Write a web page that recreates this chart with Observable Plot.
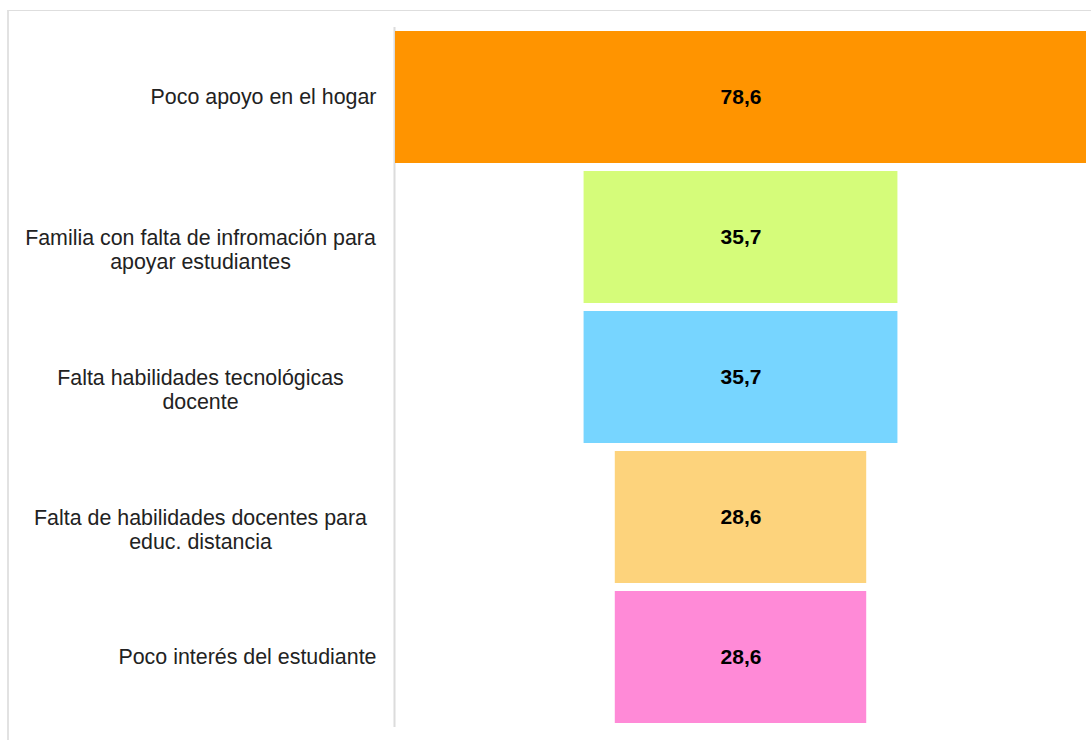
<!DOCTYPE html>
<html>
<head>
<meta charset="utf-8">
<script src="https://cdn.jsdelivr.net/npm/d3@7"></script>
<script src="https://cdn.jsdelivr.net/npm/@observablehq/plot@0.6"></script>
<style>
  html, body { margin: 0; padding: 0; background: #fff; }
  #wrap { position: relative; width: 1091px; height: 740px; overflow: hidden; }
  #frame { position: absolute; left: 7px; top: 10px; width: 1100px; height: 740px;
           border-top: 1px solid #dedede; border-left: 2px solid #e2e2e2; box-sizing: border-box; }
  #chart { position: absolute; left: 0; top: 0; }
</style>
</head>
<body>
<div id="wrap"><div id="frame"></div><div id="chart"></div></div>
<script>
const categories = [
  "Poco apoyo en el hogar",
  "Familia con falta de infromación para\napoyar estudiantes",
  "Falta habilidades tecnológicas\ndocente",
  "Falta de habilidades docentes para\neduc. distancia",
  "Poco interés del estudiante"
];
const values = [78.6, 35.7, 35.7, 28.6, 28.6];
const colors = ["#ff9400", "#d5fc7a", "#77d5ff", "#fdd37c", "#ff8ad7"];

const data = categories.map((c, i) => ({cat: c, v: values[i], color: colors[i]}));
const half = d3.max(values) / 2;
const single = data.filter(d => !d.cat.includes("\n"));
const multi = data.filter(d => d.cat.includes("\n"));

const chart = Plot.plot({
  width: 1091,
  height: 740,
  marginLeft: 395,
  marginRight: 5,
  marginTop: 30,
  marginBottom: 16,
  x: {domain: [-half, half], axis: null},
  y: {domain: categories, axis: null, paddingInner: 0.06, paddingOuter: 0},
  style: {fontFamily: "'Liberation Sans', Arial, sans-serif", fontSize: "21px", background: "transparent", overflow: "visible"},
  marks: [
    Plot.ruleX([-half], {stroke: "#dcdcdc", strokeWidth: 2, dx: -1, insetTop: -3, insetBottom: -3}),
    Plot.barX(data, {x1: d => -d.v / 2, x2: d => d.v / 2, y: "cat", fill: d => d.color}),
    Plot.text(data, {x: d => 0, y: "cat", text: d => d.v.toFixed(1).replace(".", ","), fontWeight: "bold", fill: "#000", fontSize: 21}),
    Plot.text(single, {frameAnchor: "left", y: "cat", text: "cat", textAnchor: "end", dx: -19, fill: "#222", fontSize: 21.4}),
    Plot.text(multi, {frameAnchor: "left", y: "cat", text: "cat", textAnchor: "middle", dx: -195, dy: 12, lineHeight: 24 / 21.4, fill: "#222", fontSize: 21.4})
  ]
});
document.getElementById("chart").appendChild(chart);
</script>
</body>
</html>
